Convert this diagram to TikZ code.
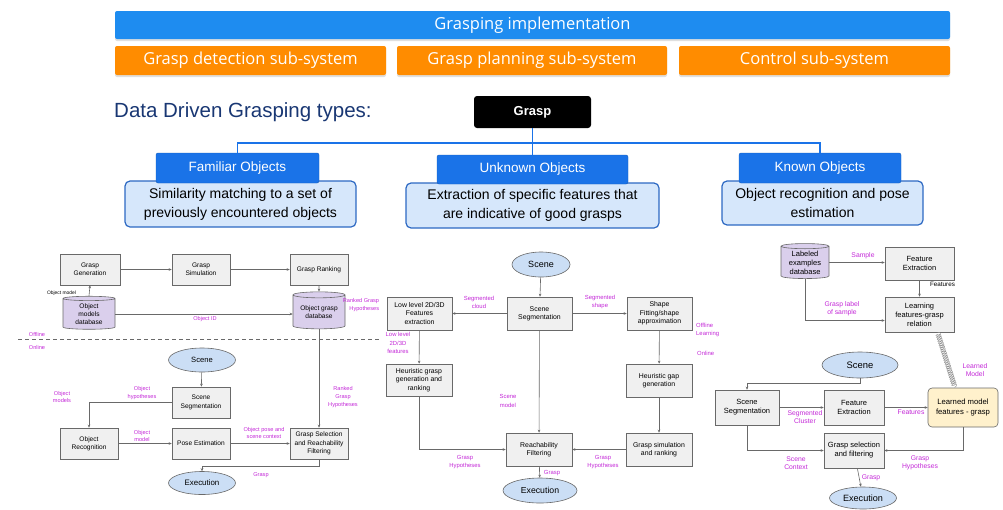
\documentclass[tikz,border=0pt]{standalone}
\usepackage{fontspec}
\setmainfont{Liberation Sans}
\newfontfamily\barfont{Open Sans}
\usetikzlibrary{shapes.geometric,arrows.meta,shadows,decorations.pathmorphing}
\definecolor{implblue}{RGB}{30,140,240}
\definecolor{barorange}{RGB}{255,140,0}
\definecolor{catblue}{RGB}{26,115,232}
\definecolor{descfill}{RGB}{214,231,251}
\definecolor{descdraw}{RGB}{45,105,195}
\definecolor{titleblue}{RGB}{25,55,115}
\definecolor{boxfill}{RGB}{240,240,240}
\definecolor{boxdraw}{RGB}{105,105,105}
\definecolor{ellfill}{RGB}{203,222,245}
\definecolor{dbfill}{RGB}{218,207,236}
\definecolor{lblmag}{RGB}{195,40,215}
\definecolor{modelfill}{RGB}{255,241,204}
\newcommand{\lsz}{\fontsize{6.6}{8.3}\selectfont}
\newcommand{\msz}{\fontsize{6.9}{8.3}\selectfont}
\newcommand{\rsz}{\fontsize{7.5}{9}\selectfont}
\newcommand{\llsz}{\fontsize{5.6}{7.8}\selectfont}
\newcommand{\mlsz}{\fontsize{5.9}{8.2}\selectfont}
\newcommand{\rlsz}{\fontsize{6.8}{8.4}\selectfont}

\begin{document}
\begin{tikzpicture}[x=1pt,y=-1pt,
  sz/.style 2 args={minimum width=#1pt,minimum height=#2pt},
  bar/.style={rounded corners=2pt,text=white,inner sep=0pt,
    font=\barfont\fontsize{16.5}{18}\selectfont,
    drop shadow={opacity=0.25,shadow xshift=0pt,shadow yshift=-2pt}},
  cat/.style={draw=catblue!80!black,fill=catblue,text=white,rounded corners=2pt,
    inner sep=0pt,font=\fontsize{13.5}{16}\selectfont},
  desc/.style={draw=descdraw,fill=descfill,line width=1.2pt,rounded corners=5pt,
    align=center,inner sep=0pt,font=\fontsize{14}{19}\selectfont},
  box/.style={draw=boxdraw,fill=boxfill,line width=0.6pt,align=center,inner sep=1pt,font=\lsz},
  mbox/.style={box,font=\msz},
  rbox/.style={box,font=\rsz},
  scene/.style={ellipse,draw=boxdraw,fill=ellfill,line width=0.6pt,inner sep=0pt},
  db/.style={cylinder,shape border rotate=90,aspect=0.16,draw=boxdraw,fill=dbfill,
    line width=0.6pt,align=center,inner sep=0pt,font=\lsz},
  lbl/.style={text=lblmag,align=center,inner sep=0pt,font=\llsz},
  mlbl/.style={lbl,font=\mlsz},
  rlbl/.style={lbl,font=\rlsz},
  arr/.style={draw=boxdraw,line width=0.6pt,-{Stealth[length=3pt,width=2.6pt]}},
  tree/.style={draw=catblue,line width=1.4pt},
  spring/.style={draw=gray!85,line width=0.4pt,decorate,
    decoration={coil,aspect=0.5,amplitude=2.5pt,segment length=2pt}}]
 \useasboundingbox (0,0) rectangle (1003,509);

 \node[bar,fill=implblue,sz={835}{28}] (impl) at (532.5,25) {Grasping implementation};
 \node[bar,fill=barorange,sz={271}{29}] (det) at (250.5,60.5) {Grasp detection sub-system};
 \node[bar,fill=barorange,sz={270}{29}] (plan) at (532,60.5) {Grasp planning sub-system};
 \node[bar,fill=barorange,sz={271}{29}] (ctrl) at (814.5,60.5) {Control sub-system};

 \node[anchor=west,text=titleblue,inner sep=0pt,font=\fontsize{20.5}{24}\selectfont]
   (types) at (114,112) {Data Driven Grasping types:};
 \node[fill=black,rounded corners=3pt,text=white,sz={117}{32},
   font=\bfseries\fontsize{13}{15}\selectfont] (grasp) at (532.5,112) {Grasp};

 \node[desc,sz={231}{46}] (famd) at (240.5,204) {Similarity matching to a set of\\previously encountered objects};
 \node[desc,sz={253}{45}] (unkd) at (532.5,205.5) {Extraction of specific features that\\are indicative of good grasps};
 \node[desc,sz={201}{44}] (knod) at (822.5,203) {Object recognition and pose\\estimation};
 \node[cat,sz={163}{30}] (fam) at (237.5,168) {Familiar Objects};
 \node[cat,sz={191}{29}] (unk) at (532.5,169.5) {Unknown Objects};
 \node[cat,sz={162}{30}] (kno) at (820,168) {Known Objects};
 \coordinate (split) at (532.5,143);
 \draw[tree] (grasp.south) -- (split);
 \draw[tree] (fam.north) |- (split) -| (kno.north);
 \draw[tree] (split) -- (unk.north);

 % familiar objects
 \node[box,sz={60}{31}] (ggen) at (90,269.5) {Grasp\\Generation};
 \node[box,sz={58}{31}] (gsim) at (201,269.5) {Grasp\\Simulation};
 \node[box,sz={58}{31}] (grank) at (319,269.5) {Grasp Ranking};
 \node[db,sz={52}{33}] (omdb) at (89,314) {Object\\models\\database};
 \node[db,sz={52}{37}] (ogdb) at (319,312) {Object grasp\\database};
 \node[scene,sz={67}{24},font=\fontsize{7.6}{9}\selectfont] (scene1) at (202,360) {Scene};
 \node[box,sz={58}{31}] (sseg1) at (201,402.5) {Scene\\Segmentation};
 \node[box,sz={58}{31}] (orec) at (89,443.5) {Object\\Recognition};
 \node[box,sz={58}{31}] (pose) at (201,443.5) {Pose Estimation};
 \node[box,sz={58}{31}] (gsel) at (319,443.5) {Grasp Selection\\and Reachability\\Filtering};
 \node[scene,sz={67}{23},font=\fontsize{7.9}{9}\selectfont] (exec1) at (202,483) {Execution};
 \draw[arr] (omdb.north) -- (ggen.south);
 \draw[arr] (ggen) -- (gsim);
 \draw[arr] (gsim) -- (grank);
 \draw[arr] (grank) -- (ogdb.north);
 \draw[arr] (omdb.east) -- (omdb.east -| ogdb.west);
 \draw[arr] (ogdb.south) -- (gsel.north);
 \draw[arr] (scene1) -- (sseg1);
 \draw[arr] (sseg1.west) -| (orec.north);
 \draw[arr] (orec) -- (pose);
 \draw[arr] (pose) -- (gsel);
 \draw[arr] (gsel.south) -- ++(0,7) -| (exec1.north);
 \draw[boxdraw,dash pattern=on 4pt off 3pt,line width=0.6pt] (18,339) -- (380,339);
 \node[inner sep=0pt,font=\fontsize{4.9}{6}\selectfont] (omlbl) at (61.5,293) {Object model};
 \node[lbl] (oid) at (205,319) {Object ID};
 \node[lbl,align=right] (rgh1) at (361,305) {Ranked Grasp\\Hypotheses};
 \node[lbl] (offl) at (37,334) {Offline};
 \node[lbl] (onl) at (37,347) {Online};
 \node[lbl] (omods) at (62,397) {Object\\models};
 \node[lbl] (ohyp) at (142,393) {Object\\hypotheses};
 \node[lbl] (omod) at (142,436) {Object\\model};
 \node[lbl] (opose) at (264,433) {Object pose and\\scene context};
 \node[lbl] (rgh2) at (343,397) {Ranked\\Grasp\\Hypotheses};
 \node[lbl] (g1) at (261,475) {Grasp};

 % unknown objects
 \node[scene,sz={58}{25},font=\fontsize{9}{10}\selectfont] (scene2) at (541,264.5) {Scene};
 \node[mbox,sz={65}{33}] (sseg2) at (539.5,313.5) {Scene\\Segmentation};
 \node[mbox,sz={65}{33}] (llf) at (419.5,313.5) {Low level 2D/3D\\Features\\extraction};
 \node[mbox,sz={65}{33}] (shape) at (659.5,313.5) {Shape\\Fitting/shape\\approximation};
 \node[mbox,sz={66}{32}] (hgr) at (419,380) {Heuristic grasp\\generation and\\ranking};
 \node[mbox,sz={66}{33}] (hgap) at (659,380.5) {Heuristic gap\\generation};
 \node[mbox,sz={66}{33}] (reach) at (539,449.5) {Reachability\\Filtering};
 \node[mbox,sz={66}{33}] (gsr) at (659,449.5) {Grasp simulation\\and ranking};
 \node[scene,sz={74}{25},font=\fontsize{8.7}{10}\selectfont] (exec2) at (540,490.5) {Execution};
 \draw[arr] (scene2) -- (sseg2);
 \draw[arr] (sseg2) -- (llf);
 \draw[arr] (sseg2) -- (shape);
 \draw[arr] (llf) -- (hgr);
 \draw[arr] (shape) -- (hgap);
 \draw[arr] (hgap) -- (gsr);
 \draw[arr] (sseg2) -- (reach);
 \draw[arr] (hgr.south) |- (reach.west);
 \draw[arr] (gsr) -- (reach);
 \draw[arr] (reach) -- (exec2);
 \node[mlbl] (segc) at (479,302) {Segmented\\cloud};
 \node[mlbl] (segs) at (600,302) {Segmented\\shape};
 \node[mlbl,anchor=west,align=left] (offl2) at (696,330) {Offline\\Learning};
 \node[mlbl,anchor=west] (onl2) at (697,353) {Online};
 \node[mlbl] (llfeat) at (398,343) {Low level\\2D/3D\\features};
 \node[mlbl] (smod) at (508,401) {Scene\\model};
 \node[mlbl] (gh1) at (465,462) {Grasp\\Hypotheses};
 \node[mlbl] (gh2) at (603,462) {Grasp\\Hypotheses};
 \node[mlbl] (g2) at (552,473) {Grasp};

 % known objects
 \node[db,font=\rsz,sz={48}{35}] (led) at (805,262.5) {Labeled\\examples\\database};
 \node[rbox,sz={69}{33}] (fex1) at (919.5,263.5) {Feature\\Extraction};
 \node[rbox,sz={69}{35}] (learn) at (919.5,314.5) {Learning\\features-grasp\\relation};
 \coordinate (learnin) at ([yshift=-6pt]learn.west);
 \node[scene,sz={76}{26},font=\fontsize{9.4}{11}\selectfont] (scene3) at (860,365) {Scene};
 \node[rbox,sz={64}{35}] (sseg3) at (747,407.5) {Scene\\Segmentation};
 \node[rbox,sz={60}{35}] (fex2) at (854,407.5) {Feature\\Extraction};
 \node[rbox,sz={70}{39},fill=modelfill,rounded corners=4pt,font=\fontsize{7.7}{9.5}\selectfont]
   (lmod) at (963,407.5) {Learned model\\features - grasp};
 \node[rbox,sz={60}{35}] (gsf) at (854,450.5) {Grasp selection\\and filtering};
 \node[scene,sz={67}{22},font=\fontsize{9.1}{10}\selectfont] (exec3) at (863,498) {Execution};
 \draw[arr] (led.east) -- (led.east -| fex1.west);
 \draw[arr] (fex1) -- (learn);
 \draw[arr] (led.south) |- (learnin);
 \draw[spring] ([xshift=18pt]learn.south) -- ([xshift=-8pt]lmod.north);
 \draw[arr] (scene3.south) -- ++(0,5) -| (sseg3.north);
 \draw[arr] (sseg3) -- (fex2);
 \draw[arr] (fex2) -- (lmod);
 \draw[arr] (lmod.south) |- (gsf.east);
 \draw[arr] (sseg3.south) |- (gsf.west);
 \draw[arr] (gsf) -- (exec3);
 \node[rlbl] (samp) at (863,256) {Sample};
 \node[inner sep=0pt,font=\fontsize{6.3}{7}\selectfont] (featlbl) at (942.5,284) {Features};
 \node[rlbl] (glab) at (842,309) {Grasp label\\of sample};
 \node[rlbl] (lmodl) at (975,370) {Learned\\Model};
 \node[rlbl] (segcl) at (805,417) {Segmented\\Cluster};
 \node[rlbl] (feat2) at (911,412) {Features};
 \node[rlbl] (sctx) at (796,463) {Scene\\Context};
 \node[rlbl] (gh3) at (920,463) {Grasp\\Hypotheses};
 \node[rlbl] (g3) at (871,478) {Grasp};
\end{tikzpicture}
\end{document}
